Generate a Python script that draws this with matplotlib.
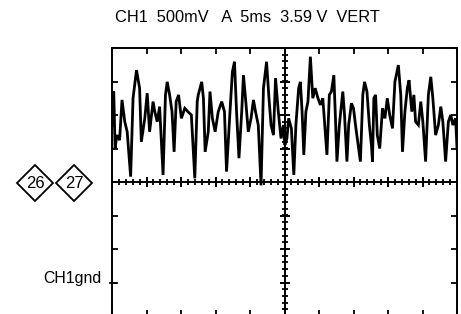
import numpy as np
import matplotlib
matplotlib.use("Agg")
import matplotlib.pyplot as plt
from matplotlib.patches import Polygon

plt.rcParams['font.family'] = ['Liberation Sans', 'DejaVu Sans']

# scope settings shown in the header
channel = "CH1"
volts_per_div = "500mV"
time_per_div = "5ms"
trigger_level = "3.59 V"
trigger_src = "VERT"
markers = ["26", "27"]

# trace, in divisions (x: 0..10, y: -4..4, 0 = centre line)
trace_t = [0.00, 0.02, 0.05, 0.09, 0.14, 0.22, 0.29, 0.37, 0.44, 0.54,
           0.61, 0.71, 0.80, 0.85, 0.95, 1.02, 1.09, 1.19, 1.24, 1.31,
           1.38, 1.48, 1.55, 1.60, 1.67, 1.74, 1.80, 1.86, 1.93, 2.01,
           2.11, 2.20, 2.30, 2.40, 2.47,
           2.50, 2.60, 2.65, 2.70, 2.79, 2.84, 2.91, 2.99, 3.08, 3.18,
           3.26, 3.32, 3.42, 3.49, 3.55, 3.61, 3.68, 3.76, 3.81, 3.87,
           3.95, 4.03, 4.10, 4.16, 4.24, 4.32, 4.39, 4.48, 4.55, 4.61,
           4.68, 4.74, 4.82, 4.90, 4.97, 5.01,
           5.07, 5.12, 5.20, 5.27, 5.33, 5.41, 5.46, 5.51, 5.56, 5.62,
           5.68, 5.75, 5.82, 5.89, 5.97, 6.04, 6.11, 6.16, 6.23, 6.30,
           6.36, 6.43, 6.47, 6.52, 6.59, 6.69, 6.74, 6.81, 6.86, 6.94,
           7.00, 7.07, 7.20, 7.27, 7.32, 7.39, 7.46, 7.52,
           7.55, 7.59, 7.64, 7.69, 7.76, 7.84, 7.91, 7.98, 8.05, 8.13,
           8.20, 8.30, 8.37, 8.42, 8.49, 8.56, 8.61, 8.69, 8.75, 8.80,
           8.88, 8.95, 9.01, 9.09, 9.17, 9.24, 9.30, 9.38, 9.46, 9.53,
           9.59, 9.67, 9.75, 9.82, 9.88, 9.96, 10.0]
trace_v = [1.70, 2.30, 2.70, 1.00, 1.40, 1.25, 2.45, 1.80, 1.50, 0.16,
           2.50, 3.34, 2.80, 1.20, 1.90, 2.65, 1.50, 2.40, 2.10, 1.80,
           2.25, 0.21, 2.60, 2.99, 2.60, 2.10, 0.90, 2.40, 2.60, 1.90,
           2.20, 2.10, 2.00, 0.11, 2.40,
           2.60, 2.99, 2.50, 0.90, 1.50, 2.70, 1.90, 1.50, 2.10, 2.40,
           2.10, 0.31, 2.10, 3.29, 3.59, 2.10, 0.71, 2.10, 3.19, 2.50,
           1.50, 1.90, 2.45, 2.10, 1.70, -0.10, 2.80, 3.59, 2.50, 1.70,
           1.40, 3.10, 2.10, 1.30, 1.70, 1.10,
           1.30, 1.90, 1.60, 0.21, 1.70, 2.80, 2.99, 2.10, 0.81, 2.10,
           2.40, 3.74, 2.50, 2.80, 2.50, 2.30, 2.50, 1.80, 0.81, 2.60,
           2.70, 3.19, 2.10, 0.61, 1.70, 2.70, 2.00, 0.61, 1.70, 2.35,
           2.20, 1.60, 0.61, 2.60, 2.99, 2.70, 1.70, 1.10,
           0.61, 2.50, 2.60, 1.40, 1.00, 2.20, 1.90, 2.50, 2.00, 1.60,
           2.99, 3.49, 2.60, 0.90, 2.10, 2.80, 3.04, 2.10, 2.60, 1.80,
           1.70, 2.40, 1.80, 0.61, 2.60, 3.14, 2.50, 1.40, 1.70, 2.25,
           1.80, 0.61, 1.80, 2.00, 1.70, 1.90, 1.00]

gnd_level = -3  # CH1 ground marker, in divisions

W, H = 461, 314
fig = plt.figure(figsize=(W / 100, H / 100), dpi=100)
fig.patch.set_facecolor('white')

# graticule box in pixels: left 112, right 457, top 48, bottom 316 (just off the page)
ax = fig.add_axes([112 / W, (H - 316) / H, 345 / W, 268 / H])
ax.set_xlim(0, 10)
ax.set_ylim(-4, 4)
for s in ax.spines.values():
    s.set_linewidth(1.4)
    s.set_color('black')
ax.set_xticks(range(0, 11))
ax.set_yticks(range(-4, 5))
ax.tick_params(direction='in', length=4, width=1.3, labelbottom=False,
               labelleft=False, top=True, right=True)

# centre cross-hair with 0.2 div graduations
ax.axhline(0, color='black', lw=1.4)
ax.axvline(5, color='black', lw=1.4)
minor_x = np.arange(0, 10.01, 0.2)
minor_y = np.arange(-4, 4.01, 0.2)
ax.plot(minor_x, np.zeros_like(minor_x), ls='none', marker='|', ms=4,
        mew=1.3, color='black')
ax.plot(range(0, 11), [0] * 11, ls='none', marker='|', ms=6.5, mew=1.4, color='black')
ax.plot(np.full_like(minor_y, 5), minor_y, ls='none', marker='_', ms=4,
        mew=1.3, color='black')
ax.plot([5] * 9, range(-4, 5), ls='none', marker='_', ms=6.5, mew=1.4, color='black')

ax.plot(trace_t, trace_v, color='black', lw=2.0, solid_joinstyle='miter')

# ground marker tick on left edge
ax.plot([-0.06, 0.1], [gnd_level, gnd_level], color='black', lw=1.3, clip_on=False)

# overlay in pixel coordinates for text and marker diamonds
ov = fig.add_axes([0, 0, 1, 1])
ov.set_xlim(0, W)
ov.set_ylim(H, 0)
ov.axis('off')
ov.patch.set_alpha(0)

header = f"{channel}  {volts_per_div}   A  {time_per_div}  {trigger_level}  {trigger_src}"
ov.text(115, 17, header, fontsize=11.8, ha='left', va='center', color='black')
ov.text(101, 279, f"{channel}gnd", fontsize=11.4, ha='right', va='center', color='black')

for cx, lab in zip([35, 74], markers):
    r = 18
    ov.add_patch(Polygon([[cx - r, 183], [cx, 183 - r], [cx + r, 183], [cx, 183 + r]],
                         closed=True, fill=False, ec='black', lw=1.3))
    ov.text(cx, 184, lab, fontsize=12, ha='center', va='center', color='black')

fig.savefig('out.png', dpi=100)
